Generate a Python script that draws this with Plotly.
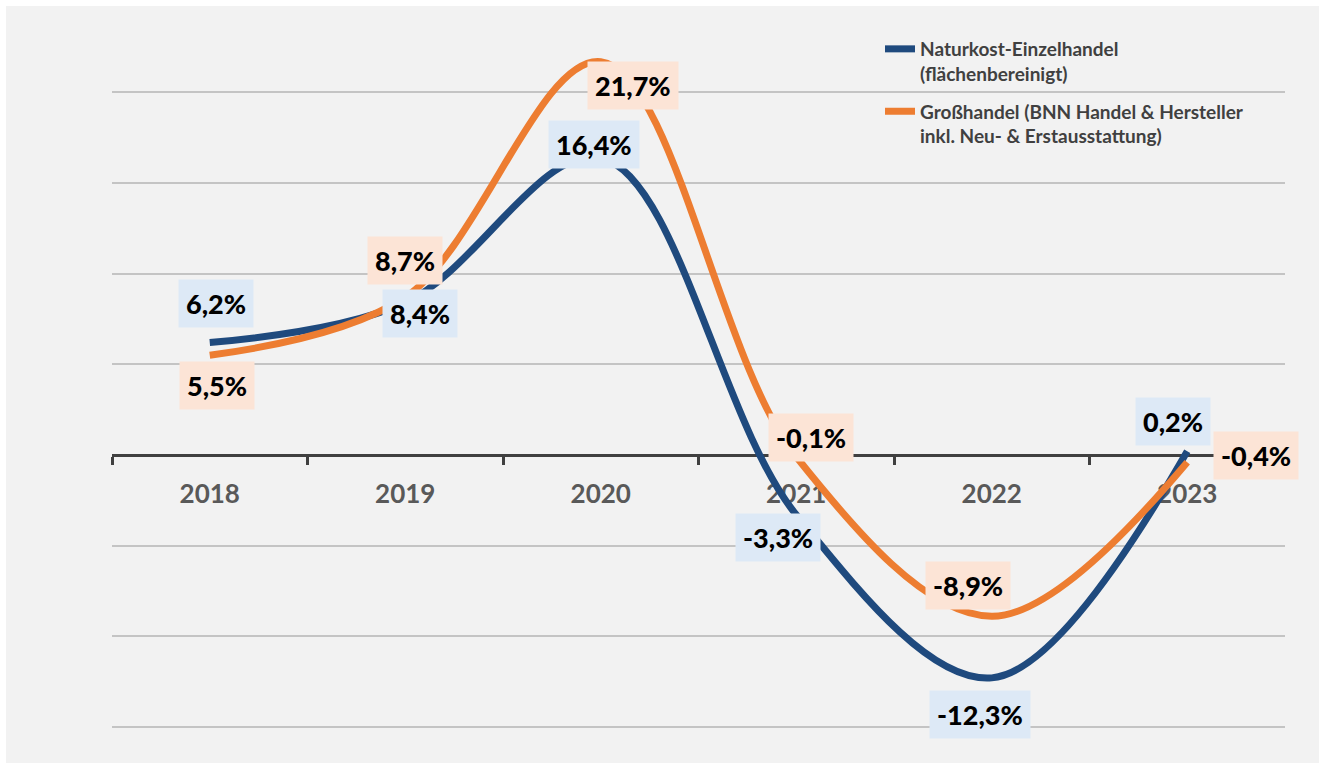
import plotly.graph_objects as go

years = ["2018", "2019", "2020", "2021", "2022", "2023"]
einzelhandel = [6.2, 8.4, 16.4, -3.3, -12.3, 0.2]
grosshandel = [5.5, 8.7, 21.7, -0.1, -8.9, -0.4]
name_einzel = "Naturkost-Einzelhandel<br>(flächenbereinigt)"
name_gross = "Großhandel (BNN Handel & Hersteller<br>inkl. Neu- & Erstausstattung)"

# label offsets in pixels (xshift, yshift) relative to data point
off_einzel = [(6, 39), (15, -11), (-7, 13), (-18, -23), (-12, -37), (-14, 30)]
off_gross = [(7, -30), (0, 37), (32, -24), (15, 19), (-24, 31), (69, 7)]

BLUE = "#1F4A7E"
ORANGE = "#ED7D31"
BLUE_BG = "#DDE9F6"
ORANGE_BG = "#FCE4D6"
FONT = "Lato"

W, H = 1319, 763
L, R, T, B = 112, 34, 20, 9
y_range = [-16.5, 24]

fig = go.Figure()
fig.add_trace(go.Scatter(x=years, y=einzelhandel, name=name_einzel, mode="lines", legendgroup="a",
                         line=dict(color=BLUE, width=7, shape="spline", smoothing=1)))
fig.add_trace(go.Scatter(x=years, y=grosshandel, name=name_gross, mode="lines", legendgroup="b",
                         line=dict(color=ORANGE, width=7, shape="spline", smoothing=1)))

def fmt(v):
    return f"{v:.1f}".replace(".", ",") + "%"

for vals, offs, bg in ((einzelhandel, off_einzel, BLUE_BG), (grosshandel, off_gross, ORANGE_BG)):
    for i, (v, (dx, dy)) in enumerate(zip(vals, offs)):
        fig.add_annotation(x=i, y=v, xref="x", yref="y", text=fmt(v), showarrow=False,
                           xshift=dx, yshift=dy, bgcolor=bg, borderpad=7,
                           font=dict(family=FONT, size=27, color="#000000", weight=900))

pw = W - L - R
ph = H - T - B
zero_pos = (0 - y_range[0]) / (y_range[1] - y_range[0])

fig.add_shape(type="rect", xref="paper", yref="paper", layer="below",
              x0=(6 - L) / pw, x1=(W - L) / pw + 0.01, y0=-B / ph - 0.01, y1=(H - B - 6) / ph,
              fillcolor="#F2F2F2", line=dict(width=0))

fig.update_layout(
    width=W, height=H,
    margin=dict(l=L, r=R, t=T, b=B),
    paper_bgcolor="#FFFFFF", plot_bgcolor="#F2F2F2",
    showlegend=True,
    legend=dict(x=(880 - L) / pw, y=(H - B - 30) / ph, xanchor="left", yanchor="top",
                bgcolor="rgba(0,0,0,0)", valign="top", tracegroupgap=10,
                font=dict(family=FONT, size=19, color="#404040", weight="bold")),
    xaxis=dict(type="category", range=[-0.5, 5.5], anchor="free", position=zero_pos,
               showline=True, linecolor="#404040", linewidth=3,
               ticks="outside", tickson="boundaries", ticklen=8, tickwidth=3, tickcolor="#404040",
               showgrid=False, layer="below traces", ticklabelstandoff=15,
               tickfont=dict(family=FONT, size=26, color="#595959", weight="bold")),
    yaxis=dict(range=y_range, tick0=0, dtick=5, showgrid=True, gridcolor="#C4C4C4", gridwidth=1.5,
               zeroline=False, showticklabels=False, showline=False),
)

fig.write_html("out.html", config={"displayModeBar": False},
               post_script="document.body.style.margin='0';")
